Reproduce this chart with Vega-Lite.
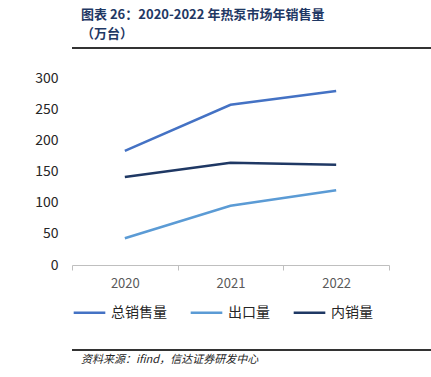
{
  "$schema": "https://vega.github.io/schema/vega-lite/v6.json",
  "padding": {"left": 15, "top": 9, "right": 14, "bottom": 2},
  "background": "white",
  "config": {"font": "Noto Sans CJK SC", "view": {"stroke": null}},
  "spacing": 18,
  "resolve": {"legend": {"color": "independent"}},
  "vconcat": [
    {
      "width": 402,
      "height": 10,
      "title": {
        "text": ["图表 26：2020-2022 年热泵市场年销售量", "（万台）"],
        "anchor": "start",
        "fontSize": 13,
        "fontWeight": "bold",
        "color": "#1F3864",
        "offset": 2,
        "lineHeight": 19,
        "dx": 10
      },
      "data": {"values": [{"a": 0, "b": 1, "v": 1}]},
      "mark": {"type": "rule", "stroke": "#333333", "strokeWidth": 2},
      "encoding": {
        "x": {"field": "a", "type": "quantitative", "scale": {"domain": [0, 1]}, "axis": null},
        "x2": {"field": "b"},
        "y": {"field": "v", "type": "quantitative", "scale": {"domain": [0, 2]}, "axis": null}
      }
    },
    {
      "width": 317,
      "height": 187,
      "data": {
        "values": [
          {"year": "2020", "series": "总销售量", "value": 183},
          {"year": "2021", "series": "总销售量", "value": 257},
          {"year": "2022", "series": "总销售量", "value": 279},
          {"year": "2020", "series": "出口量", "value": 43},
          {"year": "2021", "series": "出口量", "value": 95},
          {"year": "2022", "series": "出口量", "value": 120},
          {"year": "2020", "series": "内销量", "value": 141},
          {"year": "2021", "series": "内销量", "value": 164},
          {"year": "2022", "series": "内销量", "value": 161}
        ]
      },
      "mark": {"type": "line", "strokeWidth": 2.5},
      "encoding": {
        "x": {
          "field": "year",
          "type": "nominal",
          "title": null,
          "axis": {
            "labelAngle": 0,
            "domainColor": "#BFBFBF",
            "tickColor": "#BFBFBF",
            "tickBand": "extent",
            "tickSize": 5,
            "labelColor": "#595959",
            "labelFontSize": 13,
            "labelPadding": 7,
            "grid": false
          }
        },
        "y": {
          "field": "value",
          "type": "quantitative",
          "title": null,
          "scale": {"domain": [0, 300]},
          "axis": {
            "values": [0, 50, 100, 150, 200, 250, 300],
            "domain": false,
            "ticks": false,
            "grid": false,
            "labelFontSize": 14,
            "labelColor": "#262626",
            "labelPadding": 14,
            "minExtent": 57
          }
        },
        "color": {
          "field": "series",
          "type": "nominal",
          "scale": {
            "domain": ["总销售量", "出口量", "内销量"],
            "range": ["#4472C4", "#5B9BD5", "#1F3864"]
          },
          "legend": {
            "title": null,
            "orient": "bottom",
            "direction": "horizontal",
            "symbolType": "stroke",
            "symbolStrokeWidth": 2.5,
            "symbolSize": 1000,
            "labelFontSize": 14,
            "labelColor": "#262626",
            "labelOffset": 4,
            "columnPadding": 18,
            "offset": 5
          }
        }
      }
    },
    {
      "width": 402,
      "height": 14,
      "title": {
        "text": "资料来源：ifind，信达证券研发中心",
        "orient": "bottom",
        "anchor": "start",
        "fontSize": 11,
        "fontWeight": "normal",
        "fontStyle": "italic",
        "color": "#262626",
        "offset": 2,
        "dx": 10
      },
      "data": {"values": [{"a": 0, "b": 1, "v": 0.3}]},
      "mark": {"type": "rule", "stroke": "#333333", "strokeWidth": 2},
      "encoding": {
        "x": {"field": "a", "type": "quantitative", "scale": {"domain": [0, 1]}, "axis": null},
        "x2": {"field": "b"},
        "y": {"field": "v", "type": "quantitative", "scale": {"domain": [0, 2]}, "axis": null}
      }
    }
  ]
}
